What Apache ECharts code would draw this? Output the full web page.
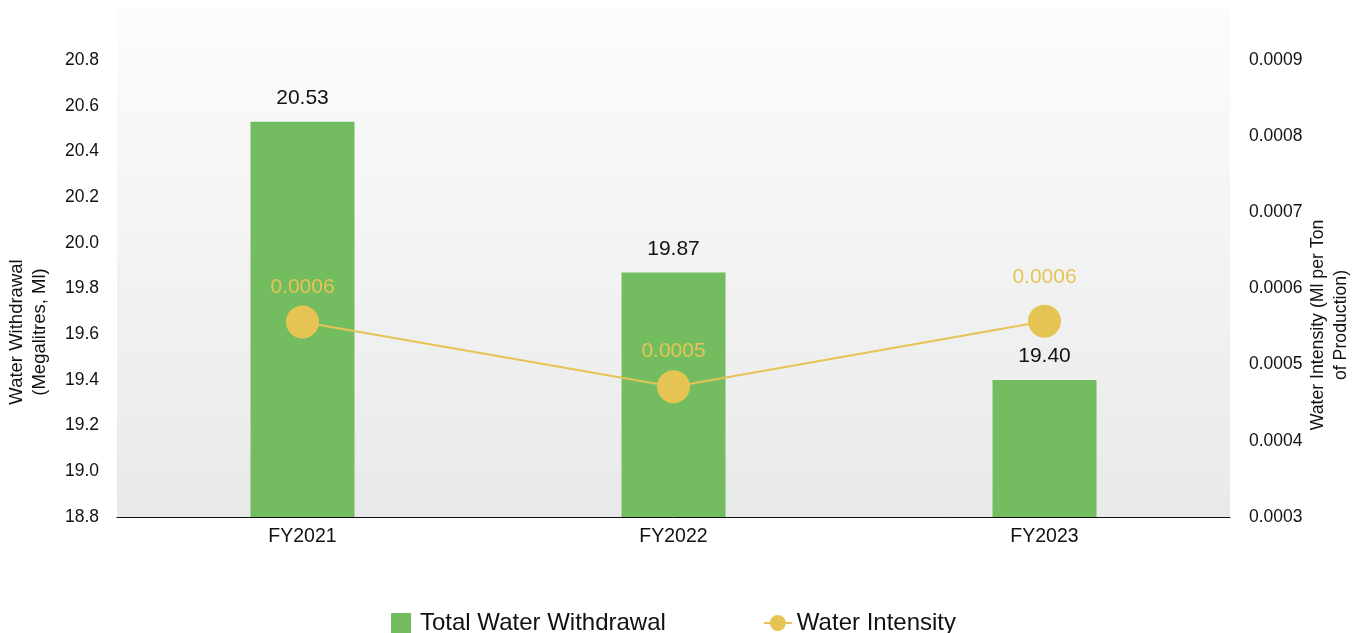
<!DOCTYPE html>
<html>
<head>
<meta charset="utf-8">
<script src="https://cdn.jsdelivr.net/npm/echarts@6/dist/echarts.min.js"></script>
<style>html,body{margin:0;padding:0;background:#fff}#c{width:1364px;height:633px}</style>
</head>
<body>
<div id="c"></div>
<script>
var categories = ['FY2021', 'FY2022', 'FY2023'];
var withdrawal = [20.53, 19.87, 19.40];
var intensity = [0.000556, 0.000471, 0.000557];
var intensityLabels = ['0.0006', '0.0005', '0.0006'];
var leftTicks = { min: 18.8, max: 21.028, interval: 0.2, lastLabel: 20.8 };
var rightTicks = { min: 0.0003, max: 0.000968, interval: 0.0001, lastLabel: 0.0009 };

var FONT = '"Liberation Sans", Arial, Helvetica, sans-serif';
var chart = echarts.init(document.getElementById('c'));
chart.setOption({
  animation: false,
  textStyle: { fontFamily: FONT },
  grid: {
    left: 117, right: 134, top: 8, bottom: 116,
    show: true, borderWidth: 0,
    backgroundColor: new echarts.graphic.LinearGradient(0, 0, 0, 1, [
      { offset: 0, color: '#fcfcfc' }, { offset: 1, color: '#e8e9e9' }
    ])
  },
  legend: {
    left: 386, top: 606, itemWidth: 28, itemHeight: 20, itemGap: 97, itemTextGap: 8,
    textStyle: { fontSize: 24, color: '#111', fontFamily: FONT },
    data: [
      { name: 'Total Water Withdrawal', icon: 'path://M0,0h20v20h-20z' },
      { name: 'Water Intensity' }
    ]
  },
  xAxis: {
    type: 'category', data: categories,
    axisLine: { lineStyle: { color: '#111', width: 1 } },
    axisTick: { show: false },
    axisLabel: { color: '#111', fontSize: 19.5, margin: 10, fontFamily: FONT }
  },
  yAxis: [
    {
      type: 'value', min: leftTicks.min, max: leftTicks.max, interval: leftTicks.interval,
      splitLine: { show: false }, axisLine: { show: false }, axisTick: { show: false },
      axisLabel: { color: '#111', fontSize: 17.5, margin: 18, showMaxLabel: false, fontFamily: FONT,
        formatter: function (v) { return v > leftTicks.lastLabel + 0.01 ? '' : v.toFixed(1); } }
    },
    {
      type: 'value', min: rightTicks.min, max: rightTicks.max, interval: rightTicks.interval,
      splitLine: { show: false }, axisLine: { show: false }, axisTick: { show: false },
      axisLabel: { color: '#111', fontSize: 17.5, margin: 19, showMaxLabel: false, fontFamily: FONT,
        formatter: function (v) { return v > rightTicks.lastLabel + 0.00001 ? '' : v.toFixed(4); } }
    }
  ],
  graphic: [
    {
      type: 'text', x: 28, y: 332, rotation: Math.PI / 2,
      style: { text: 'Water Withdrawal\n(Megalitres, Ml)', lineHeight: 23,
        fill: '#111', align: 'center', verticalAlign: 'middle', font: '18.5px ' + FONT }
    },
    {
      type: 'text', x: 1330, y: 325, rotation: Math.PI / 2,
      style: { text: 'Water Intensity (Ml per Ton\nof Production)', lineHeight: 23,
        fill: '#111', align: 'center', verticalAlign: 'middle', font: '17.7px ' + FONT }
    }
  ],
  series: [
    {
      name: 'Total Water Withdrawal', type: 'bar', data: withdrawal, barWidth: 104,
      itemStyle: { color: '#73bd60' },
      label: { show: true, position: 'top', distance: 13, color: '#111', fontSize: 21,
        fontFamily: FONT, formatter: function (p) { return p.value.toFixed(2); } }
    },
    {
      name: 'Water Intensity', type: 'line', yAxisIndex: 1,
      data: intensity.map(function (v, i) {
        return i === 2 ? { value: v, label: { distance: 17 } } : v;
      }),
      symbol: 'circle', symbolSize: 33,
      lineStyle: { color: '#e6c453', width: 2 },
      itemStyle: { color: '#e6c453' },
      label: { show: true, position: 'top', distance: 8, color: '#e6c453', fontSize: 21,
        fontFamily: FONT, formatter: function (p) { return intensityLabels[p.dataIndex]; } }
    }
  ]
});
</script>
</body>
</html>
